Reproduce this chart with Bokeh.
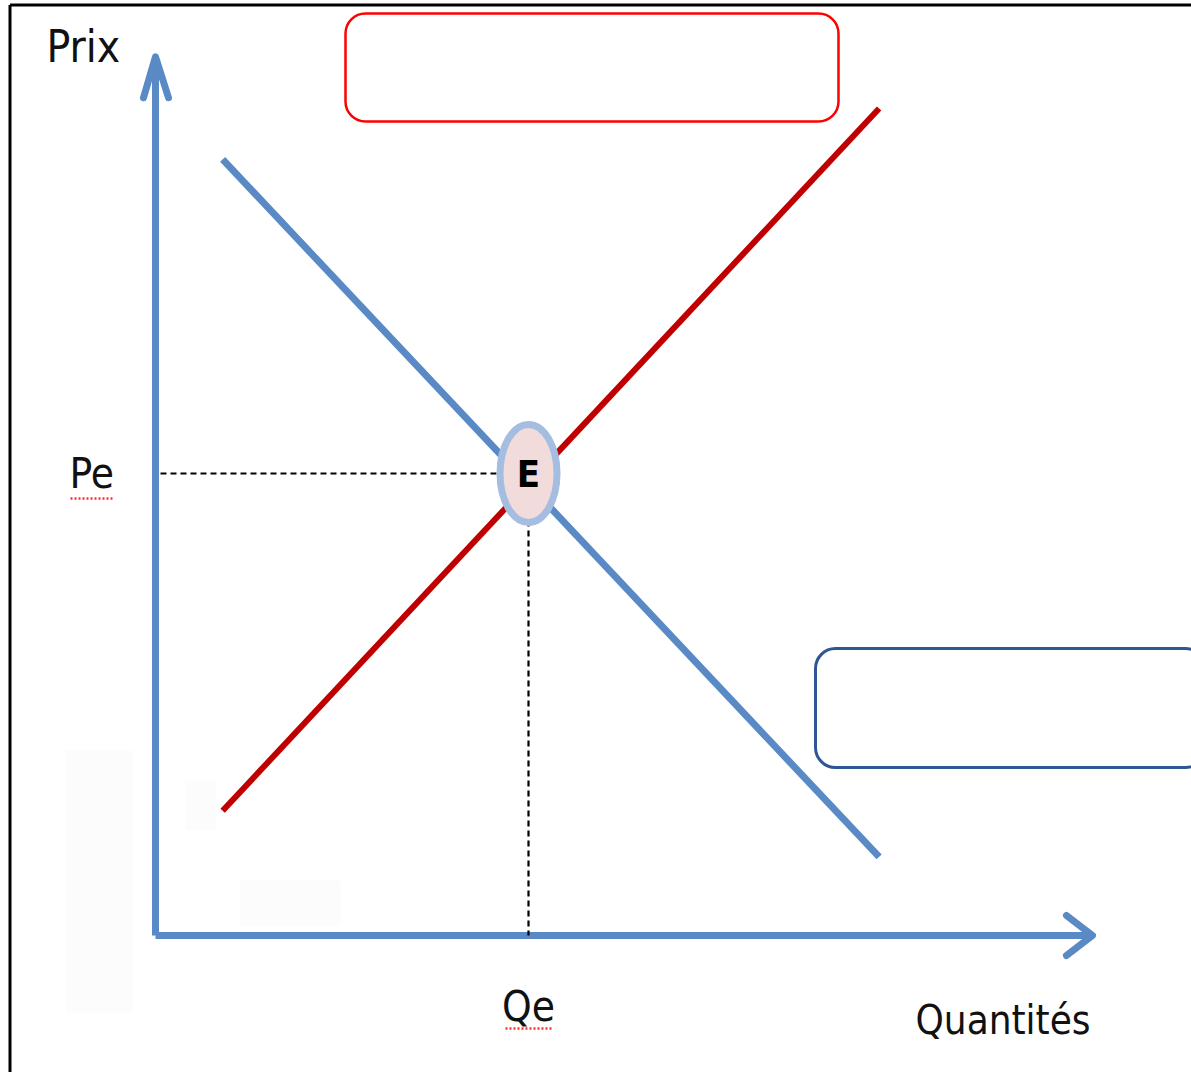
from bokeh.plotting import figure
from bokeh.models import Range1d, BoxAnnotation
from bokeh.core.properties import value
from bokeh.embed import file_html
from bokeh.resources import INLINE

# ---- data (economic units) ----
demand_q = [0.9, 9.7]
demand_p = [8.4, 0.85]
supply_q = [0.9, 9.7]
supply_p = [1.35, 8.95]
eq_q = 5.0
eq_p = 5.0
axis_q_max = 12.56
axis_p_max = 9.51
labels_axis = ["Prix", "Quantités"]
labels_eq = ["Pe", "Qe", "E"]

# ---- layout: page pixel <-> data mapping ----
W, H = 1191, 1072
OX, OY = 0, 0            # figure offset in screenshot
PX0, PY0 = 155.0, 935.0  # screenshot pixel of origin
SX, SY = 74.6, 92.4      # pixels per unit

def X(px):
    return (px - PX0) / SX

def Y(py):
    return (PY0 - py) / SY

FONT = "DejaVu Sans Condensed"
BLUE = "#5A8AC6"
RED = "#C00000"

p = figure(width=W, height=H, output_backend="svg", toolbar_location=None,
           x_range=Range1d(X(OX), X(OX + W)), y_range=Range1d(Y(OY + H), Y(OY)),
           min_border=0, background_fill_color="white", border_fill_color="white")
p.axis.visible = False
p.grid.visible = False
p.outline_line_color = None

# faint artefact blocks
for l, r, t, b in [(65, 132, 750, 1012), (240, 340, 880, 926), (185, 215, 780, 830)]:
    p.add_layout(BoxAnnotation(left=X(l), right=X(r), top=Y(t), bottom=Y(b),
                               fill_color="#FCFCFC", fill_alpha=1, line_color=None))

# frame (top and left)
p.line([X(9.5), X(9.5)], [Y(OY + H + 5), Y(4.5)], line_color="black", line_width=3)
p.line([X(9.5), X(OX + W + 5)], [Y(4.5), Y(4.5)], line_color="black", line_width=3)

# axes with open arrow heads
p.line([0, 0], [0, axis_p_max], line_color=BLUE, line_width=7)
p.line([0, axis_q_max], [0, 0], line_color=BLUE, line_width=7)
tipy_x, tipy_y = 0, axis_p_max
p.line([tipy_x - 12 / SX, tipy_x, tipy_x + 13 / SX],
       [tipy_y - 41 / SY, tipy_y, tipy_y - 41 / SY],
       line_color=BLUE, line_width=7, line_cap="round", line_join="round")
tipx_x, tipx_y = axis_q_max, 0
p.line([tipx_x - 26 / SX, tipx_x, tipx_x - 26 / SX],
       [tipx_y + 20 / SY, tipx_y, tipx_y - 20 / SY],
       line_color=BLUE, line_width=7, line_cap="round", line_join="round")

# dashed guides
p.line([X(160), eq_q - 31 / SX], [eq_p, eq_p], line_color="black", line_width=2.2, line_dash="6 4")
p.line([eq_q, eq_q], [eq_p - 47 / SY, 0], line_color="black", line_width=2.2, line_dash="6 4")

# demand & supply
p.line(demand_q, demand_p, line_color=BLUE, line_width=7)
p.line(supply_q, supply_p, line_color=RED, line_width=6)

# equilibrium point
p.ellipse(x=[eq_q], y=[eq_p], width=57, height=98, width_units="screen", height_units="screen",
          fill_color="#F2DCDB", line_color="#A4BDE0", line_width=7)
p.text(x=[eq_q], y=[eq_p], text=[labels_eq[2]], text_font=value(FONT), text_font_style="bold",
       text_font_size="38px", text_align="center", text_baseline="middle", text_color="black")

# rounded boxes
p.add_layout(BoxAnnotation(left=X(345), right=X(838), top=Y(13), bottom=Y(121),
                           fill_color="white", fill_alpha=0, line_color="#FF0000", line_alpha=1,
                           line_width=2.5, border_radius=20))
p.add_layout(BoxAnnotation(left=X(815), right=X(1205), top=Y(648), bottom=Y(767),
                           fill_color="white", fill_alpha=0, line_color="#2F5597", line_alpha=1,
                           line_width=3, border_radius=20))

# labels
p.text(x=[X(46)], y=[Y(46)], text=[labels_axis[0]], text_font=value(FONT),
       text_font_size="44px", text_align="left", text_baseline="alphabetic", text_color="#111111")
p.text(x=[X(915)], y=[Y(1019)], text=[labels_axis[1]], text_font=value(FONT),
       text_font_size="40px", text_align="left", text_baseline="alphabetic", text_color="#111111")
p.text(x=[X(69)], y=[eq_p], text=[labels_eq[0]], text_font=value(FONT),
       text_font_size="42px", text_align="left", text_baseline="alphabetic", text_color="#111111")
p.text(x=[eq_q], y=[Y(1006)], text=[labels_eq[1]], text_font=value(FONT),
       text_font_size="42px", text_align="center", text_baseline="alphabetic", text_color="#111111")

# spell-check squiggles
p.line([X(70), X(112)], [Y(498), Y(498)], line_color="#FF3030", line_width=2.5, line_dash="2 2")
p.line([X(505), X(552)], [Y(1028), Y(1028)], line_color="#FF3030", line_width=2.5, line_dash="2 2")

open("out.html", "w").write(file_html(p, INLINE))
